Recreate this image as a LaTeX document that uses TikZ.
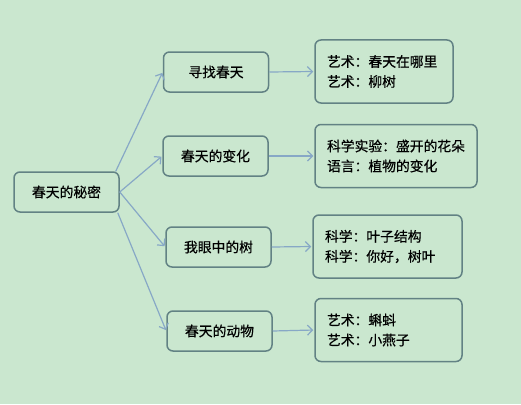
\documentclass[tikz,border=0pt]{standalone}
\usepackage{fontspec}
\setmainfont{Noto Sans CJK SC}[FakeBold=0.6]
\usetikzlibrary{arrows.meta}
\definecolor{fon}{RGB}{202,231,207}
\definecolor{ramka}{RGB}{98,130,132}
\definecolor{liniya}{RGB}{135,168,198}
\tikzset{
	box/.style={draw=ramka, line width=1.5pt, rounded corners=6pt, fill=fon, inner sep=0pt, font=\fontsize{13.8}{20}\selectfont},
	tema/.style={box, minimum width=105pt, minimum height=40pt},
	urok/.style={box, align=left, inner xsep=12pt, minimum height=63pt},
	strelka/.style={draw=liniya, line width=1.2pt, -{Straight Barb[length=5pt,width=10pt]}, shorten >=1pt}
}
\begin{document}
\begin{tikzpicture}[x=1pt, y=-1pt]
		% фон
		\fill [fon] ( 0, 0 ) rectangle ( 521, 404 );
		\useasboundingbox ( 0, 0 ) rectangle ( 521, 404 );

		% корень
		\node [tema] (root) at ( 66.5, 192 ) {春天的秘密};

		% темы
		\node [tema] (t1) at ( 216.0, 72 ) {寻找春天};
		\node [tema] (t2) at ( 215.5, 156 ) {春天的变化};
		\node [tema] (t3) at ( 218.5, 247 ) {我眼中的树};
		\node [tema] (t4) at ( 219.5, 331 ) {春天的动物};

		% занятия
		\node [urok, text width=114pt] (l1) at ( 384.0, 71.5 ) {艺术：春天在哪里\\艺术：柳树};
		\node [urok, text width=138pt] (l2) at ( 396.0, 156 ) {科学实验：盛开的花朵\\语言：植物的变化};
		\node [urok, text width=125pt] (l3) at ( 387.5, 246.5 ) {科学：叶子结构\\科学：你好，树叶};
		\node [urok, text width=123pt] (l4) at ( 388.5, 330 ) {艺术：蝌蚪\\艺术：小燕子};

		% стрелки от корня
		\draw [strelka] ([xshift=-4pt]root.north east) -- (t1.west);
		\draw [strelka] (root.east) -- (t2.west);
		\draw [strelka] (root.east) -- (t3.west);
		\draw [strelka] ([xshift=-2pt]root.south east) -- (t4.west);

		% стрелки к занятиям
		\draw [strelka] (t1.east) -- (l1.west);
		\draw [strelka] (t2.east) -- (l2.west);
		\draw [strelka] (t3.east) -- (l3.west);
		\draw [strelka] (t4.east) -- (l4.west);
\end{tikzpicture}
\end{document}
